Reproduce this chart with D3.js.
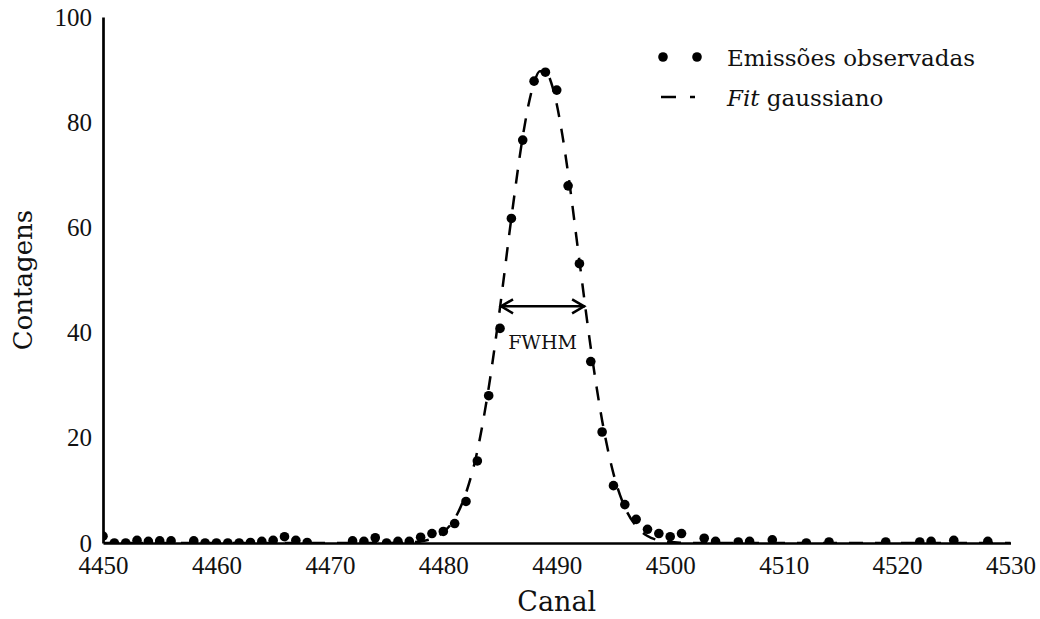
<!DOCTYPE html>
<html>
<head>
<meta charset="utf-8">
<script src="https://cdn.jsdelivr.net/npm/d3@7"></script>
<style>
  html, body { margin: 0; padding: 0; background: #fff; }
  svg { display: block; font-family: "DejaVu Serif", serif; }
</style>
</head>
<body>
<svg id="chart" width="1040" height="619"></svg>
<script>
// ---- Data ----
const obsChannels = [4450,4451,4452,4453,4454,4455,4456,4458,4459,4460,4461,4462,4463,4464,4465,4466,4467,4468,
  4472,4473,4474,4475,4476,4477,4478,4479,4480,4481,4482,4483,4484,4485,4486,4487,4488,4489,4490,4491,4492,4493,
  4494,4495,4496,4497,4498,4499,4500,4501,4503,4504,4506,4507,4509,4512,4514,4519,4522,4523,4525,4528];
const obsCounts = [1.3,0,0,0.5,0.3,0.4,0.4,0.4,0,0,0,0,0.1,0.3,0.5,1.2,0.5,0.1,
  0.4,0.3,1.0,0,0.3,0.3,1.1,1.8,2.2,3.7,7.9,15.6,28.0,40.8,61.7,76.6,87.8,89.5,86.1,67.9,53.1,34.5,
  21.1,10.9,7.3,4.5,2.6,1.8,1.2,1.8,0.9,0.3,0.2,0.3,0.6,0,0.2,0.2,0.2,0.3,0.5,0.3];

const fitChannels = [4450,4474,4475,4476,4477,4478,4479,4480,4481,4482,4483,4484,4485,4486,4487,4487.5,4488,4488.5,
  4489,4489.5,4490,4490.5,4491,4492,4493,4494,4495,4496,4497,4498,4499,4500,4501,4502,4503,4530];
const fitCounts = [0,0.01,0.01,0.03,0.10,0.30,0.82,2.05,4.6,9.5,17.5,29.5,44.8,61.8,77.2,83.2,87.5,89.7,
  89.7,87.6,83.4,77.5,70.3,53.6,37.1,23.3,13.2,6.8,3.2,1.34,0.51,0.18,0.06,0.02,0.005,0];

const xTicks = [4450,4460,4470,4480,4490,4500,4510,4520,4530];
const yTicks = [0,20,40,60,80,100];

const fwhmLevel = 45;
const fwhmRange = [4485.0, 4492.5];

const legendLabels = ["Emissões observadas", "gaussiano"];

// ---- Layout ----
const svg = d3.select("#chart");
const x = d3.scaleLinear().domain([4450, 4530]).range([103, 1010.5]);
const y = d3.scaleLinear().domain([0, 100]).range([543, 17]);

svg.append("defs").append("clipPath").attr("id", "plotclip")
  .append("rect").attr("x", 103).attr("y", 0).attr("width", 920).attr("height", 543);

const plot = svg.append("g").attr("clip-path", "url(#plotclip)");

const fitData = fitChannels.map((c, i) => [c, fitCounts[i]]);
const line = d3.line().x(d => x(d[0])).y(d => y(d[1])).curve(d3.curveMonotoneX);
plot.append("path").datum(fitData)
  .attr("d", line)
  .attr("fill", "none").attr("stroke", "#000").attr("stroke-width", 2.5)
  .attr("stroke-dasharray", "14,12");

const obsData = obsChannels.map((c, i) => [c, obsCounts[i]]);
plot.selectAll("circle.obs").data(obsData).enter().append("circle")
  .attr("class", "obs")
  .attr("cx", d => x(d[0])).attr("cy", d => y(d[1])).attr("r", 4.8)
  .attr("fill", "#000");

// Axes
const yAxis = d3.axisLeft(y).tickValues(yTicks).tickSize(0).tickPadding(11).tickFormat(d3.format("d"));
const xAxis = d3.axisBottom(x).tickValues(xTicks).tickSize(0).tickPadding(13).tickFormat(d3.format("d"));

const gy = svg.append("g").attr("transform", `translate(${x(4450)},0)`).call(yAxis);
const gx = svg.append("g").attr("transform", `translate(0,${y(0)})`).call(xAxis);
[gx, gy].forEach(g => {
  g.select(".domain").attr("stroke", "#000").attr("stroke-width", 2.7);
  g.selectAll("text").attr("font-family", "Liberation Serif, serif").attr("font-size", 25).attr("fill", "#111");
});

// Axis titles
svg.append("text").attr("x", x(4490)).attr("y", 611)
  .attr("text-anchor", "middle").attr("font-size", 27).attr("fill", "#111").text("Canal");
svg.append("text").attr("transform", `translate(32,${y(50)}) rotate(-90)`)
  .attr("text-anchor", "middle").attr("font-size", 26).attr("fill", "#111").text("Contagens");

// FWHM arrow
const fy = y(fwhmLevel), fx0 = x(fwhmRange[0]), fx1 = x(fwhmRange[1]);
const ag = svg.append("g").attr("stroke", "#000").attr("stroke-width", 2.5).attr("fill", "none");
ag.append("line").attr("x1", fx0).attr("x2", fx1).attr("y1", fy).attr("y2", fy);
ag.append("path").attr("d", `M${fx0 + 13},${fy - 7}L${fx0 + 1},${fy}L${fx0 + 13},${fy + 7}`);
ag.append("path").attr("d", `M${fx1 - 13},${fy - 7}L${fx1 - 1},${fy}L${fx1 - 13},${fy + 7}`);
svg.append("text").attr("x", (fx0 + fx1) / 2).attr("y", fy + 43)
  .attr("text-anchor", "middle").attr("font-size", 19).attr("fill", "#111").text("FWHM");

// Legend
const lg = svg.append("g");
[663, 697].forEach(cx => lg.append("circle").attr("cx", cx).attr("cy", 57).attr("r", 4.8).attr("fill", "#000"));
lg.append("line").attr("x1", 661).attr("x2", 695).attr("y1", 97).attr("y2", 97)
  .attr("stroke", "#000").attr("stroke-width", 2.5).attr("stroke-dasharray", "15,14");
lg.append("text").attr("x", 727).attr("y", 66).attr("font-size", 23).attr("fill", "#111").text(legendLabels[0]);
const t2 = lg.append("text").attr("x", 727).attr("y", 106).attr("font-size", 23).attr("fill", "#111");
t2.append("tspan").attr("font-style", "italic").text("Fit");
t2.append("tspan").text(" " + legendLabels[1]);
</script>
</body>
</html>
